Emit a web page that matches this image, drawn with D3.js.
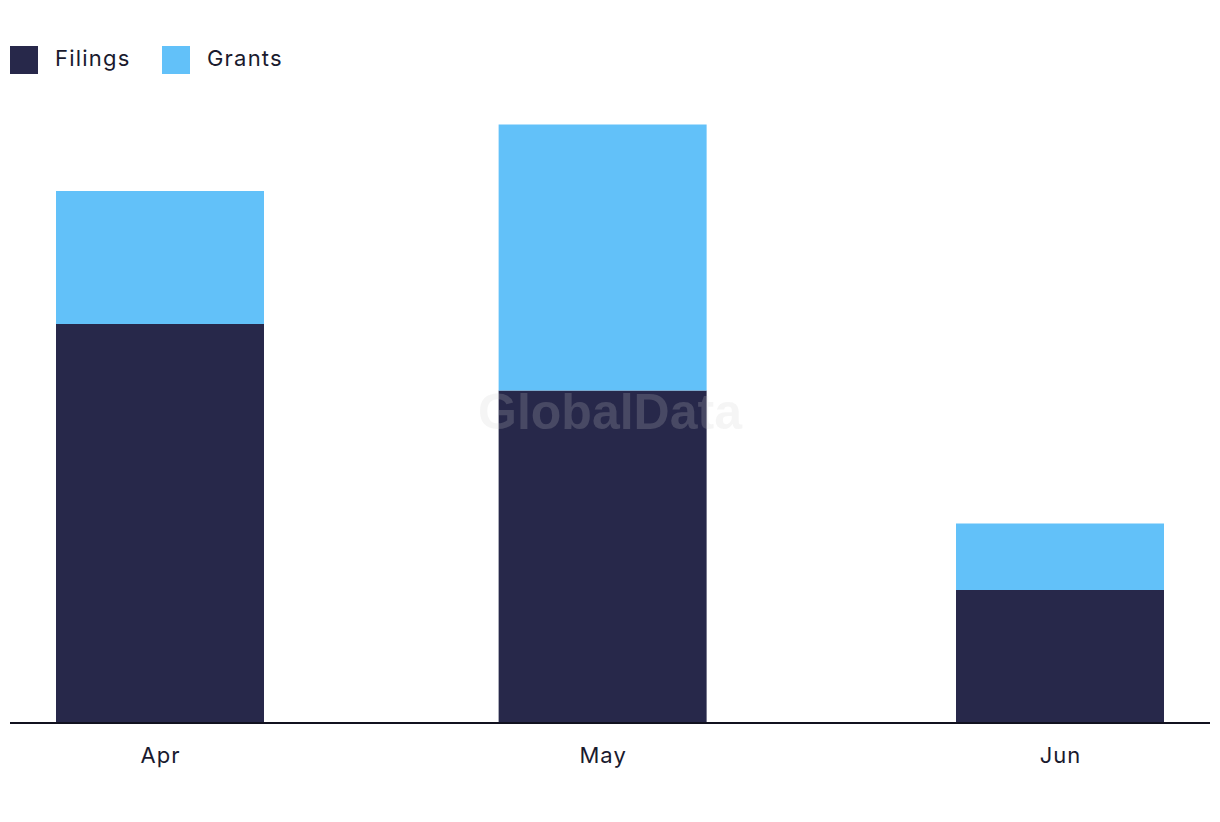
<!DOCTYPE html>
<html><head><meta charset="utf-8">
<script src="https://cdn.jsdelivr.net/npm/d3@7"></script>
<style>body{margin:0;background:#fff}svg{display:block}</style>
</head><body>
<svg id="c" width="1220" height="822"></svg>
<script>
const months = ["2024-04-01", "2024-05-01", "2024-06-01"];
const monthLabels = ["Apr", "May", "Jun"];
const filings = [6, 5, 2];
const grants = [2, 4, 1];
const seriesNames = ["Filings", "Grants"];
const colors = ["#27284a", "#62c1f9"];

const svg = d3.select("#c");
const parse = d3.utcParse("%Y-%m-%d");
const dates = months.map(parse);
const baseY = 723;
const x = d3.scaleUtc().domain([dates[0], dates[2]]).range([160, 1060]);
const y = d3.scaleLinear().domain([0, 9]).range([baseY, 124.5]);

const rows = dates.map((d, i) => ({date: d, Filings: filings[i], Grants: grants[i]}));
const stack = d3.stack().keys(seriesNames)(rows);
const bw = 208;

svg.append("g").selectAll("g").data(stack).join("g")
  .attr("fill", (d, i) => colors[i])
  .selectAll("rect").data(d => d).join("rect")
  .attr("x", d => x(d.data.date) - bw / 2)
  .attr("width", bw)
  .attr("y", d => y(d[1]))
  .attr("height", d => y(d[0]) - y(d[1]));

// watermark
svg.append("text").attr("x", 610).attr("y", 429).attr("text-anchor", "middle")
  .attr("font-family", "Liberation Sans, Arial, sans-serif").attr("font-weight", "bold")
  .attr("font-size", 50).attr("fill", "#cdcdcd").attr("fill-opacity", 0.2).text("GlobalData");

// x axis
const axis = d3.axisBottom(x).tickValues(dates).tickFormat((d, i) => monthLabels[i]).tickSize(0).tickPadding(20);
const ag = svg.append("g").attr("transform", `translate(0,${baseY})`).call(axis);
ag.select(".domain").remove();
ag.append("line").attr("x1", 10).attr("x2", 1210).attr("y1", 0).attr("y2", 0)
  .attr("stroke", "#11111f").attr("stroke-width", 2);
ag.selectAll(".tick text").attr("font-family", "Inter, sans-serif").attr("font-size", 22)
  .attr("letter-spacing", "1px").attr("fill", "#1a1a2e").attr("dy", "0.9em");

// legend
const leg = svg.append("g");
const legX = [10, 162];
seriesNames.forEach((n, i) => {
  leg.append("rect").attr("x", legX[i]).attr("y", 46).attr("width", 28).attr("height", 28).attr("fill", colors[i]);
  leg.append("text").attr("x", legX[i] + 45).attr("y", 66).attr("font-family", "Inter, sans-serif")
    .attr("font-size", 22).attr("letter-spacing", "1.2px").attr("fill", "#1a1a2e").text(n);
});
</script>
</body></html>
